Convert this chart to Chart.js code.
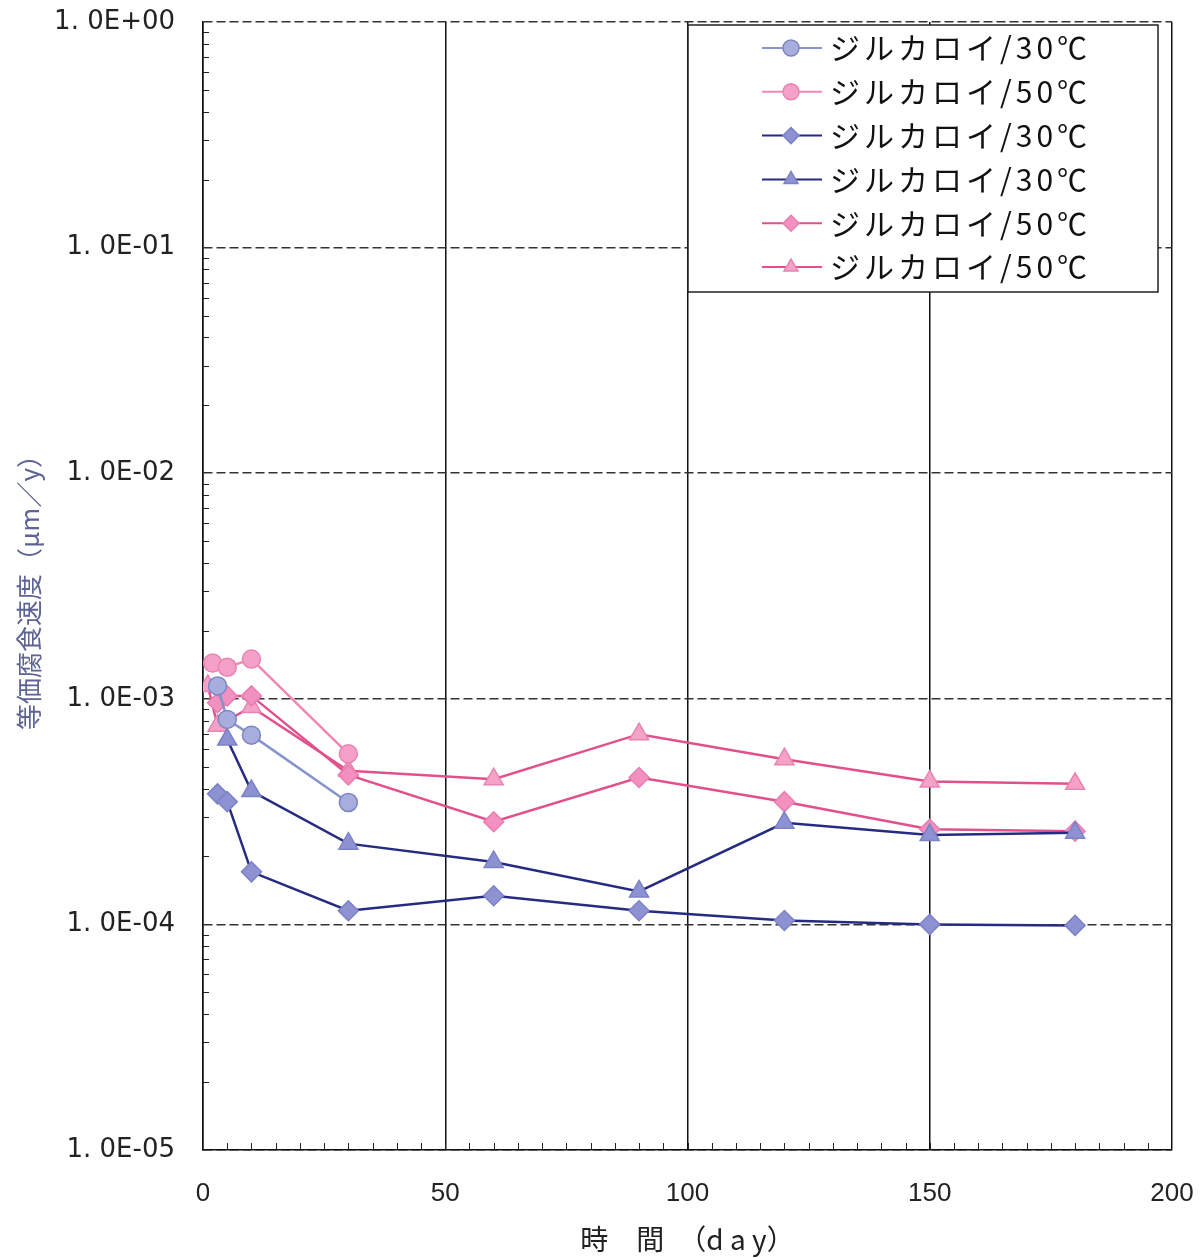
<!DOCTYPE html>
<html>
<head>
<meta charset="utf-8">
<script src="https://cdn.jsdelivr.net/npm/chart.js@4.4.0/dist/chart.umd.min.js"></script>
<style>
  body { margin: 0; background: #fff; }
  #wrap { width: 1204px; height: 1258px; }
</style>
</head>
<body>
<div id="wrap"><canvas id="myChart" width="1204" height="1258"></canvas></div>
<script>
'use strict';

// data (day, um/y)
let labels = ['ジルカロイ/30℃', 'ジルカロイ/50℃', 'ジルカロイ/30℃', 'ジルカロイ/30℃', 'ジルカロイ/50℃', 'ジルカロイ/50℃'];

let days1 = [3, 5, 10, 30];
let rate1 = [1.14e-3, 8.1e-4, 6.9e-4, 3.47e-4];

let days2 = [2, 5, 10, 30];
let rate2 = [1.44e-3, 1.38e-3, 1.50e-3, 5.7e-4];

let days3 = [3, 5, 10, 30, 60, 90, 120, 150, 180];
let rate3 = [3.79e-4, 3.5e-4, 1.71e-4, 1.15e-4, 1.34e-4, 1.15e-4, 1.04e-4, 1.0e-4, 0.99e-4];

let days4 = [5, 10, 30, 60, 90, 120, 150, 180];
let rate4 = [6.6e-4, 3.9e-4, 2.28e-4, 1.89e-4, 1.40e-4, 2.82e-4, 2.49e-4, 2.55e-4];

let days5 = [3, 5, 10, 30, 60, 90, 120, 150, 180];
let rate5 = [9.6e-4, 1.03e-3, 1.03e-3, 4.6e-4, 2.85e-4, 4.48e-4, 3.5e-4, 2.64e-4, 2.59e-4];

let days6 = [1, 3, 10, 30, 60, 90, 120, 150, 180];
let rate6 = [1.14e-3, 7.6e-4, 9.2e-4, 4.8e-4, 4.4e-4, 6.97e-4, 5.4e-4, 4.3e-4, 4.2e-4];

let yTicks = [1e-5, 1e-4, 1e-3, 1e-2, 1e-1, 1];
let yTickText = ['1. 0E-05', '1. 0E-04', '1. 0E-03', '1. 0E-02', '1. 0E-01', '1. 0E+00'];
let xTicks = [0, 50, 100, 150, 200];

function pairs(days, rates){
    let out = [];
    for (let i = 0; i < days.length; i++){
        out.push({x: days[i], y: rates[i]});
    }
    return out;
}

function series(i, days, rates, shape, line, fill, edge, r){
    return {
        label: labels[i],
        data: pairs(days, rates),
        borderColor: line,
        backgroundColor: fill,
        pointBackgroundColor: fill,
        pointBorderColor: edge,
        pointBorderWidth: 1.5,
        pointStyle: shape,
        pointRadius: r,
        borderWidth: 2.5,
        tension: 0
    };
}

let datasets = [
    series(0, days1, rate1, 'circle', '#8794cc', '#a7aedd', '#7d86c2', 9),
    series(1, days2, rate2, 'circle', '#ef86b5', '#f5a0c8', '#e884b2', 9),
    series(2, days3, rate3, 'rectRot', '#262b82', '#8c92d2', '#7c82c6', 10),
    series(3, days4, rate4, 'triangle', '#262b82', '#8c92d2', '#7c82c6', 11),
    series(4, days5, rate5, 'rectRot', '#e2508c', '#f290bf', '#e87eb0', 10),
    series(5, days6, rate6, 'triangle', '#e2508c', '#f4a2c8', '#e884b2', 11)
];

// minor ticks + legend box drawn inside the plot
let extras = {
    id: 'extras',
    afterDraw(chart){
        let ctx = chart.ctx;
        let xs = chart.scales.x;
        let ys = chart.scales.y;
        let area = chart.chartArea;
        ctx.save();
        ctx.strokeStyle = '#222';
        ctx.lineWidth = 1;
        for (let k = -5; k < 0; k++){
            for (let m = 2; m < 10; m++){
                let py = Math.round(ys.getPixelForValue(m * Math.pow(10, k))) + 0.5;
                ctx.beginPath();
                ctx.moveTo(area.left, py);
                ctx.lineTo(area.left + 6, py);
                ctx.stroke();
            }
        }
        for (let d = 5; d < 200; d += 5){
            let px = Math.round(xs.getPixelForValue(d)) + 0.5;
            ctx.beginPath();
            ctx.moveTo(px, area.bottom);
            ctx.lineTo(px, area.bottom - 7);
            ctx.stroke();
        }

        // legend
        let bx = 688, by = 25, bw = 470, bh = 267;
        ctx.fillStyle = '#fff';
        ctx.fillRect(bx, by, bw, bh);
        ctx.strokeStyle = '#222';
        ctx.lineWidth = 1.5;
        ctx.strokeRect(bx, by, bw, bh);
        ctx.font = '30px "Noto Sans CJK JP", sans-serif';
        ctx.textBaseline = 'middle';
        ctx.letterSpacing = '4px';
        for (let i = 0; i < datasets.length; i++){
            let ds = datasets[i];
            let ly = 48 + i * 43.8;
            ctx.strokeStyle = ds.borderColor;
            ctx.lineWidth = 2;
            ctx.beginPath();
            ctx.moveTo(762, ly);
            ctx.lineTo(822, ly);
            ctx.stroke();
            ctx.fillStyle = ds.pointBackgroundColor;
            ctx.strokeStyle = ds.pointBorderColor;
            ctx.lineWidth = 1.5;
            Chart.helpers.drawPoint(ctx, {pointStyle: ds.pointStyle, radius: 8, borderWidth: 1.5, rotation: 0}, 791, ly);
            ctx.fillStyle = '#111';
            ctx.fillText(ds.label, 830, ly);
        }
        ctx.restore();
    }
};

let chartdata = {
    type: 'line',
    data: { datasets: datasets },
    options: {
        responsive: false,
        animation: false,
        layout: { padding: { top: 22, right: 32, left: 0, bottom: 0 } },
        plugins: { legend: { display: false }, tooltip: { enabled: false } },
        scales: {
            x: {
                type: 'linear',
                min: 0,
                max: 200,
                afterBuildTicks: (s) => { s.ticks = xTicks.map(v => ({value: v})); },
                afterFit: (s) => { s.height = 108; s.paddingRight = 0; s.paddingLeft = 0; },
                ticks: {
                    color: '#222',
                    font: { size: 26, family: '"Liberation Sans", Arial, sans-serif' },
                    padding: 28,
                    maxRotation: 0
                },
                grid: { color: '#111', lineWidth: 1.5, drawTicks: false },
                border: { color: '#111', width: 1.5 },
                title: {
                    display: true,
                    text: '時　間　（d a y）',
                    color: '#222',
                    font: { size: 28, family: '"Noto Sans CJK JP", sans-serif' },
                    padding: { top: 0, bottom: 2 }
                }
            },
            y: {
                type: 'logarithmic',
                min: 1e-5,
                max: 1,
                afterBuildTicks: (s) => { s.ticks = yTicks.map(v => ({value: v})); },
                afterFit: (s) => { s.width = 203; s.paddingTop = 0; s.paddingBottom = 0; },
                ticks: {
                    color: '#222',
                    font: { size: 26, family: '"DejaVu Sans", sans-serif' },
                    padding: 28,
                    callback: (v) => yTickText[yTicks.findIndex(t => Math.abs(Math.log10(t) - Math.log10(v)) < 1e-6)]
                },
                grid: { color: '#333', lineWidth: 1.5, drawTicks: false },
                border: { color: '#111', width: 1.5, dash: [9, 4] },
                title: {
                    display: true,
                    text: '等価腐食速度（μm／y）',
                    color: '#5d6494',
                    font: { size: 26, family: '"Noto Sans CJK JP", sans-serif' },
                    padding: { top: 14, bottom: 0 }
                }
            }
        }
    },
    plugins: [extras]
};

let ctx = document.getElementById('myChart').getContext('2d');
let myChart = new Chart(ctx, chartdata);
</script>
</body>
</html>
